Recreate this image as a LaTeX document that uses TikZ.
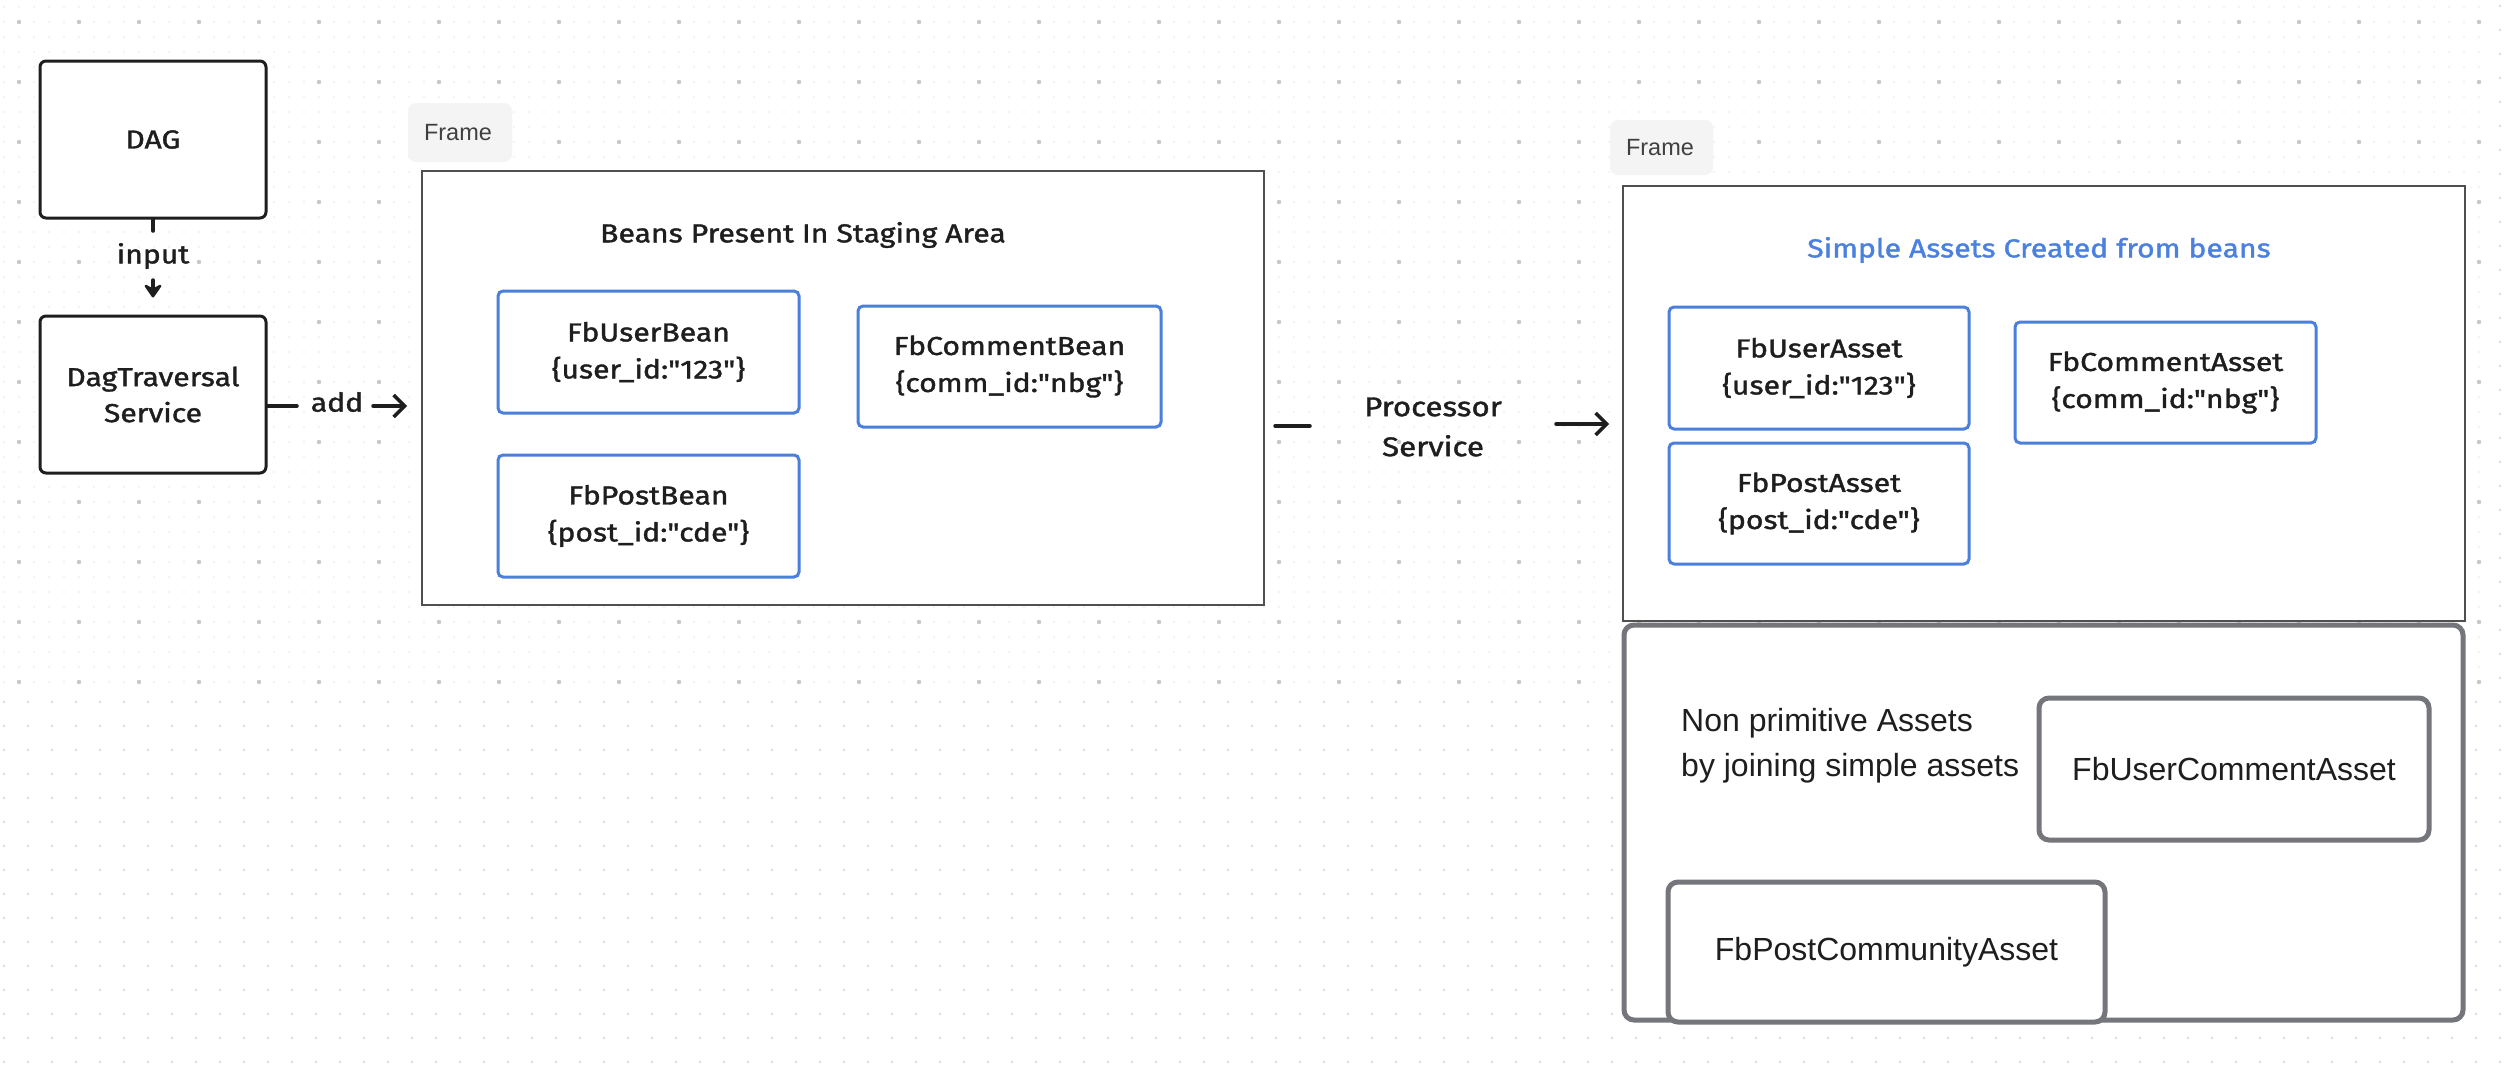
\documentclass[tikz,border=0pt]{standalone}
\usepackage{fontspec}
\setmainfont{Liberation Sans}
\newfontfamily\hand{Fira Sans}[FakeStretch=1.16, FakeBold=1.4]
\usetikzlibrary{arrows.meta}
\definecolor{ink}{HTML}{1E1E1E}
\definecolor{bblue}{HTML}{4A7FDB}
\definecolor{tblue}{HTML}{4A80E0}
\definecolor{gboxc}{HTML}{75767B}
\definecolor{frm}{HTML}{505050}
\definecolor{lblbg}{HTML}{F4F4F5}
\definecolor{dotA}{HTML}{C8C8C8}
\definecolor{dotB}{HTML}{D9DCE0}
\definecolor{dotC}{HTML}{F1F1F1}
\tikzset{
  hbox/.style={draw=ink, line width=3pt, rounded corners=6pt, fill=white,
    font=\hand\fontsize{26}{36}\selectfont, text=ink, align=center, inner sep=0pt},
  bean/.style={draw=bblue, line width=3pt, rounded corners=5pt, fill=white,
    font=\hand\fontsize{26}{37}\selectfont, text=ink, align=center, inner sep=0pt},
  framebox/.style={draw=frm, line width=2.5pt, fill=white, inner sep=0pt},
  flabel/.style={fill=lblbg, rounded corners=8pt, inner sep=0pt},
  ftext/.style={anchor=west, inner sep=0pt, font=\fontsize{23.5}{28}\selectfont, text=ink!85},
  greybox/.style={draw=gboxc, line width=5pt, rounded corners=10pt, fill=white,
    font=\fontsize{32}{44}\selectfont, text=ink, inner sep=0pt},
  htext/.style={font=\hand\fontsize{26}{36}\selectfont, text=ink, align=center, inner sep=0pt},
  conn/.style={draw=ink, line width=3.5pt, line cap=round},
  barb/.style={conn, -{Straight Barb[length=11pt,width=22pt]}},
  solidtip/.style={conn, -{Stealth[length=16pt,width=22pt,inset=6pt,round]}},
  dotrow/.style={line cap=round, line width=#1},
}
\begin{document}
\begin{tikzpicture}[x=1pt,y=-1pt]
\useasboundingbox (0,0) rectangle (2514,1076);
\fill[white] (0,0) rectangle (2514,1076);
% lower dot grid (24 px)
\foreach \j in {0,...,15}{
  \draw[dotB, dotrow=2.8pt, dash pattern=on 0pt off 24pt] (4,{702+24*\j}) -- (2510,{702+24*\j});
}
\draw[dotB, dotrow=2.8pt, dash pattern=on 0pt off 24pt] (2500,6) -- (2500,700);
% upper dot grid (60 px with faint 15 px)
\foreach \j in {0,...,45}{
  \draw[dotC, dotrow=2.2pt, dash pattern=on 0pt off 15pt] (4,{7+15*\j}) -- (2490,{7+15*\j});
}
\foreach \j in {0,...,11}{
  \draw[dotA, dotrow=4.4pt, dash pattern=on 0pt off 60pt] (19,{22+60*\j}) -- (2485,{22+60*\j});
}

% left column
\node[hbox, minimum width=226pt, minimum height=157pt] (dag) at (153,139.5) {DAG};
\node[hbox, minimum width=226pt, minimum height=157pt] (dts) at (153,394.5) {DagTraversal\\Service};
\node[htext] (inlbl) at (153,256) {input};
\coordinate (inA) at (153,231);
\coordinate (inB) at (153,280);
\draw[conn] (dag.south) -- (inA);
\draw[solidtip] (inB) -- ([yshift=17pt]dts.north);
\node[htext] (addlbl) at (337,402) {add};
\coordinate (adA) at (297,406);
\coordinate (adB) at (373,406);
\draw[conn] (dts.east |- adA) -- (adA);
\draw[barb] (adB) -- (407,406);

% frame 1
\node[flabel, minimum width=104pt, minimum height=59pt] (fl1) at (460,132.5) {};
\node[ftext] (fl1t) at ([xshift=16pt]fl1.west) {Frame};
\node[framebox, minimum width=842pt, minimum height=434pt] (f1) at (843,388) {};
\node[htext] (t1) at (803,235) {Beans Present In Staging Area};
\node[bean, minimum width=301pt, minimum height=122pt] (ub) at (648.5,352) {FbUserBean\\\{user\_id:"123"\}};
\node[bean, minimum width=303pt, minimum height=121pt] (cb) at (1009.5,366.5) {FbCommentBean\\\{comm\_id:"nbg"\}};
\node[bean, minimum width=301pt, minimum height=122pt] (pb) at (648.5,516) {FbPostBean\\\{post\_id:"cde"\}};

% processor connector
\node[htext, font=\hand\fontsize{27}{40}\selectfont] (proc) at (1433,427) {Processor\\Service};
\coordinate (pa) at (1275,426);
\coordinate (pb2) at (1310,426);
\coordinate (pc) at (1556,424);
\coordinate (pd) at (1609,424);
\draw[conn] (pa) -- (pb2);
\draw[barb] (pc) -- (pd);

% frame 2
\node[flabel, minimum width=103pt, minimum height=55pt] (fl2) at (1661.5,147.5) {};
\node[ftext] (fl2t) at ([xshift=16pt]fl2.west) {Frame};
\node[framebox, minimum width=842pt, minimum height=435pt] (f2) at (2044,403.5) {};
\node[htext, text=tblue] (t2) at (2039,250) {Simple Assets Created from beans};
\node[bean, minimum width=300pt, minimum height=122pt] (ua) at (1819,368) {FbUserAsset\\\{user\_id:"123"\}};
\node[bean, minimum width=301pt, minimum height=121pt] (ca) at (2165.5,382.5) {FbCommentAsset\\\{comm\_id:"nbg"\}};
\node[bean, minimum width=300pt, minimum height=121pt] (pa2) at (1819,503.5) {FbPostAsset\\\{post\_id:"cde"\}};

% non primitive assets
\node[greybox, minimum width=839pt, minimum height=395pt] (np) at (2043.5,822.5) {};
\node[anchor=west, align=left, inner sep=0pt, font=\fontsize{32}{45}\selectfont, text=ink] (npt) at (1681,745.5) {Non primitive Assets\\by joining simple assets};
\node[greybox, minimum width=390pt, minimum height=142pt] (uca) at (2234,769) {FbUserCommentAsset};
\node[greybox, minimum width=437pt, minimum height=140pt] (pca) at (1886.5,952) {FbPostCommunityAsset};
\end{tikzpicture}
\end{document}
